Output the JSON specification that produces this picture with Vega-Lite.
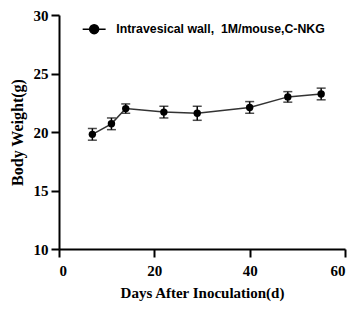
{
  "$schema": "https://vega.github.io/schema/vega-lite/v6.json",
  "width": 286,
  "height": 234,
  "autosize": "none",
  "padding": {"left": 59, "top": 15, "right": 8, "bottom": 60},
  "background": "white",
  "config": {
    "view": {"stroke": null},
    "axis": {
      "grid": false,
      "domainColor": "black",
      "domainWidth": 2,
      "tickColor": "black",
      "tickWidth": 2,
      "tickSize": 8,
      "labelFont": "Liberation Serif",
      "labelFontWeight": "bold",
      "labelFontSize": 15,
      "labelColor": "black",
      "titleFont": "Liberation Serif",
      "titleFontWeight": "bold",
      "titleFontSize": 15,
      "titleColor": "black"
    }
  },
  "data": {
    "values": [
      {"day": 7, "weight": 19.8, "sem": 0.5, "series": "Intravesical wall,\u00a0 1M/mouse,C-NKG"},
      {"day": 11, "weight": 20.7, "sem": 0.5, "series": "Intravesical wall,\u00a0 1M/mouse,C-NKG"},
      {"day": 14, "weight": 22.0, "sem": 0.4, "series": "Intravesical wall,\u00a0 1M/mouse,C-NKG"},
      {"day": 22, "weight": 21.7, "sem": 0.5, "series": "Intravesical wall,\u00a0 1M/mouse,C-NKG"},
      {"day": 29, "weight": 21.6, "sem": 0.6, "series": "Intravesical wall,\u00a0 1M/mouse,C-NKG"},
      {"day": 40, "weight": 22.1, "sem": 0.5, "series": "Intravesical wall,\u00a0 1M/mouse,C-NKG"},
      {"day": 48, "weight": 23.0, "sem": 0.45, "series": "Intravesical wall,\u00a0 1M/mouse,C-NKG"},
      {"day": 55, "weight": 23.25, "sem": 0.5, "series": "Intravesical wall,\u00a0 1M/mouse,C-NKG"}
    ]
  },
  "encoding": {
    "x": {
      "field": "day",
      "type": "quantitative",
      "scale": {"domain": [0, 60], "nice": false},
      "axis": {"values": [0, 20, 40, 60], "title": "Days After Inoculation(d)", "labelPadding": 6, "titlePadding": 7}
    }
  },
  "layer": [
    {
      "mark": {"type": "errorbar", "ticks": {"size": 9, "thickness": 1.5, "color": "black"}, "rule": {"strokeWidth": 1.5, "color": "black"}},
      "encoding": {
        "y": {"field": "weight", "type": "quantitative", "scale": {"domain": [10, 30], "nice": false},
          "axis": {"values": [10, 15, 20, 25, 30], "title": "Body Weight(g)", "labelPadding": 3, "titlePadding": 8, "titleFontSize": 16}},
        "yError": {"field": "sem"}
      }
    },
    {
      "mark": {"type": "line", "color": "#333333", "strokeWidth": 1.5},
      "encoding": {"y": {"field": "weight", "type": "quantitative"}}
    },
    {
      "mark": {"type": "point", "filled": true, "opacity": 1, "size": 55},
      "encoding": {
        "y": {"field": "weight", "type": "quantitative"},
        "color": {
          "field": "series", "type": "nominal",
          "scale": {"range": ["black"]},
          "legend": {
            "title": null,
            "orient": "none",
            "legendX": 29,
            "legendY": 8,
            "symbolType": "M-2.55,0L2.55,0M-1,0A1,1,0,1,0,1,0A1,1,0,1,0,-1,0Z",
            "symbolSize": 81,
            "symbolStrokeWidth": 1.5,
            "symbolStrokeColor": "black",
            "labelFont": "Liberation Sans",
            "labelFontWeight": "bold",
            "labelFontSize": 12.3,
            "labelColor": "black",
            "labelOffset": 16,
            "labelLimit": 400,
            "encode": {"symbols": {"update": {"stroke": {"value": "black"}, "strokeOpacity": {"value": 1}, "fill": {"value": "black"}, "fillOpacity": {"value": 1}, "strokeWidth": {"value": 1.5}, "opacity": {"value": 1}}}}
          }
        }
      }
    }
  ]
}
